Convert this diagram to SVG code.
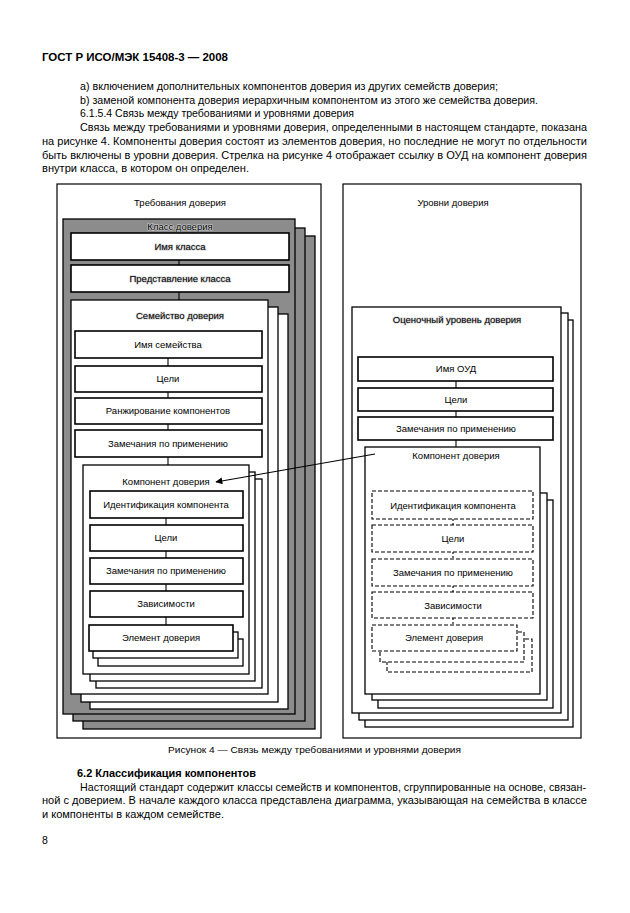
<svg xmlns="http://www.w3.org/2000/svg" width="630" height="913" viewBox="0 0 630 913">
<defs>
<style>
.t{font-family:"Liberation Sans",Arial,sans-serif;font-size:10.5px;fill:#000}
.h{font-weight:bold;font-size:11px}
.d{font-family:"Liberation Sans",Arial,sans-serif;font-size:9.5px;fill:#000;text-anchor:middle}
.halo{paint-order:stroke;stroke:#cfcfcf;stroke-width:1.2px}
.frame{fill:#fff;stroke:#000;stroke-width:1.2}
.gray{fill:#8c8c8c;stroke:#000;stroke-width:1.3}
.box{fill:#fff;stroke:#000;stroke-width:1.6}
.lay{fill:#fff;stroke:#000;stroke-width:1.3}
.dash{fill:#fff;stroke:#000;stroke-width:1.1;stroke-dasharray:4 2}
.ln{stroke:#000;stroke-width:1.1;fill:none}
.dln{stroke:#000;stroke-width:1.1;fill:none;stroke-dasharray:2 2}
</style>
<marker id="ah" viewBox="0 0 10 10" refX="9" refY="5" markerWidth="9" markerHeight="7" markerUnits="userSpaceOnUse" orient="auto">
<path d="M0,0 L10,5 L0,10 z" fill="#000"/>
</marker>
</defs>
<rect width="630" height="913" fill="#fff"/>

<g id="page-text">
<text class="t h" x="42" y="61" textLength="186" lengthAdjust="spacingAndGlyphs">ГОСТ Р ИСО/МЭК 15408-3 — 2008</text>
<text class="t" x="80" y="90" textLength="418" lengthAdjust="spacingAndGlyphs">а) включением дополнительных компонентов доверия из других семейств доверия;</text>
<text class="t" x="80" y="104" textLength="458" lengthAdjust="spacingAndGlyphs">b) заменой компонента доверия иерархичным компонентом из этого же семейства доверия.</text>
<text class="t" x="80" y="117" textLength="274" lengthAdjust="spacingAndGlyphs">6.1.5.4 Связь между требованиями и уровнями доверия</text>
<text class="t" x="80" y="131" textLength="507" lengthAdjust="spacingAndGlyphs">Связь между требованиями и уровнями доверия, определенными в настоящем стандарте, показана</text>
<text class="t" x="42" y="145" textLength="545" lengthAdjust="spacingAndGlyphs">на рисунке 4. Компоненты доверия состоят из элементов доверия, но последние не могут по отдельности</text>
<text class="t" x="42" y="159" textLength="545" lengthAdjust="spacingAndGlyphs">быть включены в уровни доверия. Стрелка на рисунке 4 отображает ссылку в ОУД на компонент доверия</text>
<text class="t" x="42" y="172" textLength="207" lengthAdjust="spacingAndGlyphs">внутри класса, в котором он определен.</text>
<text class="t" x="168" y="753" style="font-size:9.5px" textLength="293" lengthAdjust="spacingAndGlyphs">Рисунок 4 — Связь между требованиями и уровнями доверия</text>
<text class="t h" x="77" y="777" textLength="179" lengthAdjust="spacingAndGlyphs">6.2 Классификация компонентов</text>
<text class="t" x="80" y="791" textLength="506" lengthAdjust="spacingAndGlyphs">Настоящий стандарт содержит классы семейств и компонентов, сгруппированные на основе, связан-</text>
<text class="t" x="42" y="804" textLength="545" lengthAdjust="spacingAndGlyphs">ной с доверием. В начале каждого класса представлена диаграмма, указывающая на семейства в классе</text>
<text class="t" x="42" y="818" textLength="182" lengthAdjust="spacingAndGlyphs">и компоненты в каждом семействе.</text>
<text class="t" x="42" y="844">8</text>
</g>

<g id="requirements-frame">
<rect class="frame" x="57" y="184" width="264" height="554"/>
<text class="d" x="180" y="206">Требования доверия</text>
</g>

<g id="assurance-class">
<rect class="gray" x="83" y="236" width="232" height="493"/>
<rect class="gray" x="73" y="228" width="232" height="493"/>
<rect class="gray" x="63" y="219" width="232" height="495"/>
<text class="d halo" x="180" y="230">Класс доверия</text>
</g>
<g id="class-name">
<rect class="box" x="71" y="233" width="218" height="27"/>
<text class="d halo" x="180" y="250">Имя класса</text>
</g>
<g id="class-intro">
<rect class="box" x="71" y="265" width="218" height="27"/>
<text class="d halo" x="180" y="282">Представление класса</text>
</g>

<g id="assurance-family">
<rect class="lay" x="90" y="314" width="198" height="395"/>
<rect class="lay" x="81" y="307" width="197" height="395"/>
<rect class="lay" x="71" y="300" width="197" height="394"/>
<text class="d halo" x="180" y="319">Семейство доверия</text>
</g>
<g id="family-name">
<rect class="box" x="75" y="331" width="187" height="27"/>
<text class="d" x="168" y="348">Имя семейства</text>
</g>
<g id="family-objectives">
<rect class="box" x="75" y="366" width="187" height="26"/>
<text class="d" x="168" y="382">Цели</text>
</g>
<g id="family-levelling">
<rect class="box" x="75" y="398" width="187" height="26"/>
<text class="d" x="168" y="414">Ранжирование компонентов</text>
</g>
<g id="family-notes">
<rect class="box" x="75" y="430" width="187" height="27"/>
<text class="d" x="168" y="447">Замечания по применению</text>
</g>

<g id="assurance-component">
<rect class="lay" x="96" y="479" width="166" height="209"/>
<rect class="lay" x="90" y="472" width="165" height="209"/>
<rect class="lay" x="83" y="465" width="166" height="209"/>
<text class="d" x="166" y="485">Компонент доверия</text>
</g>
<g id="comp-id">
<rect class="box" x="90" y="491" width="153" height="27"/>
<text class="d" x="166" y="508">Идентификация компонента</text>
</g>
<g id="comp-objectives">
<rect class="box" x="90" y="525" width="153" height="26"/>
<text class="d" x="166" y="541">Цели</text>
</g>
<g id="comp-notes">
<rect class="box" x="90" y="558" width="153" height="26"/>
<text class="d" x="166" y="574">Замечания по применению</text>
</g>
<g id="comp-deps">
<rect class="box" x="90" y="591" width="153" height="26"/>
<text class="d" x="166" y="607">Зависимости</text>
</g>
<g id="assurance-element">
<rect class="lay" x="98" y="639" width="145" height="27"/>
<rect class="lay" x="93" y="632" width="145" height="26"/>
<rect class="box" x="89" y="625" width="144" height="26"/>
<text class="d" x="161" y="641">Элемент доверия</text>
</g>

<g id="levels-frame">
<rect class="frame" x="343" y="184" width="238" height="554"/>
<text class="d" x="453" y="206">Уровни доверия</text>
</g>
<g id="eal">
<rect class="lay" x="365" y="320" width="208" height="407"/>
<rect class="lay" x="359" y="313" width="209" height="407"/>
<rect class="lay" x="352" y="307" width="209" height="406"/>
<text class="d halo" x="457" y="323">Оценочный уровень доверия</text>
</g>
<g id="eal-name">
<rect class="box" x="358" y="357" width="195" height="24"/>
<text class="d" x="456" y="372">Имя ОУД</text>
</g>
<g id="eal-objectives">
<rect class="box" x="358" y="388" width="195" height="23"/>
<text class="d" x="456" y="403">Цели</text>
</g>
<g id="eal-notes">
<rect class="box" x="358" y="417" width="195" height="23"/>
<text class="d" x="456" y="432">Замечания по применению</text>
</g>
<g id="eal-component">
<rect class="lay" x="378" y="500" width="175" height="208"/>
<rect class="lay" x="372" y="493" width="175" height="207"/>
<rect class="lay" x="365" y="447" width="175" height="247"/>
<text class="d" x="456" y="459">Компонент доверия</text>
</g>
<g id="eal-comp-id">
<rect class="dash" x="372" y="491" width="161" height="28"/>
<text class="d" x="453" y="509">Идентификация компонента</text>
</g>
<g id="eal-comp-objectives">
<rect class="dash" x="372" y="525" width="161" height="27"/>
<text class="d" x="453" y="542">Цели</text>
</g>
<g id="eal-comp-notes">
<rect class="dash" x="372" y="559" width="161" height="27"/>
<text class="d" x="453" y="576">Замечания по применению</text>
</g>
<g id="eal-comp-deps">
<rect class="dash" x="372" y="592" width="161" height="26"/>
<text class="d" x="453" y="609">Зависимости</text>
</g>
<g id="eal-element">
<rect class="dash" x="387" y="639" width="145" height="33"/>
<rect class="dash" x="380" y="632" width="144" height="30"/>
<rect class="dash" x="372" y="625" width="145" height="26"/>
<text class="d" x="444" y="641">Элемент доверия</text>
</g>

<g id="connectors">
<line class="ln" x1="179" y1="260" x2="179" y2="265"/>
<line class="ln" x1="179" y1="292" x2="179" y2="300"/>
<line class="ln" x1="168" y1="358" x2="168" y2="366"/>
<line class="ln" x1="168" y1="392" x2="168" y2="398"/>
<line class="ln" x1="168" y1="424" x2="168" y2="430"/>
<line class="ln" x1="168" y1="457" x2="168" y2="465"/>
<line class="ln" x1="166" y1="518" x2="166" y2="525"/>
<line class="ln" x1="166" y1="551" x2="166" y2="558"/>
<line class="ln" x1="166" y1="584" x2="166" y2="591"/>
<line class="ln" x1="166" y1="617" x2="166" y2="625"/>
<line class="ln" x1="456" y1="381" x2="456" y2="388"/>
<line class="ln" x1="456" y1="411" x2="456" y2="417"/>
<line class="ln" x1="456" y1="440" x2="456" y2="447"/>
<line class="dln" x1="453" y1="519" x2="453" y2="525"/>
<line class="dln" x1="453" y1="552" x2="453" y2="559"/>
<line class="dln" x1="453" y1="586" x2="453" y2="592"/>
<line class="dln" x1="453" y1="618" x2="453" y2="625"/>
<line class="ln" x1="375" y1="454" x2="216" y2="482" marker-end="url(#ah)"/>
</g>
</svg>
